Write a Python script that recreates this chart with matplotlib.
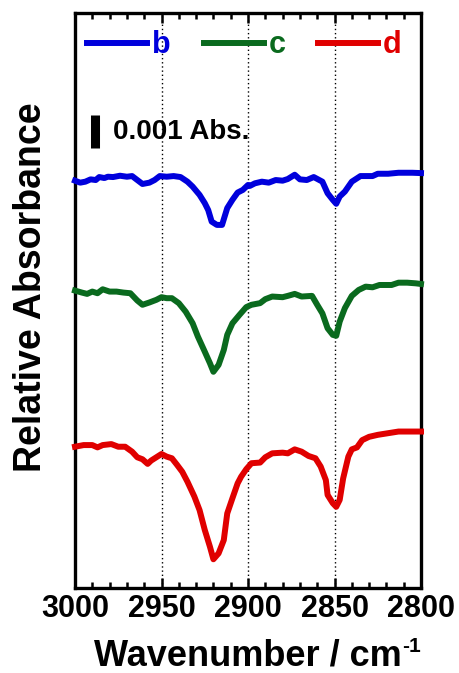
import numpy as np
import matplotlib
matplotlib.use("Agg")
import matplotlib.pyplot as plt
from matplotlib.ticker import MultipleLocator

plt.rcParams['font.family'] = ['Liberation Sans', 'DejaVu Sans']
plt.rcParams['font.weight'] = 'bold'

# ---------------- data (absorbance in mAbs, offset already included) ----------------
wn_b = [3000, 2997, 2994, 2991, 2988, 2986, 2983, 2981, 2978, 2974, 2970, 2967, 2964, 2961,
        2957, 2954, 2951, 2947, 2943, 2939, 2935, 2932, 2928, 2925, 2923, 2921, 2918, 2915,
        2912, 2909, 2906, 2903, 2900, 2899, 2896, 2892, 2888, 2884, 2880, 2877, 2873, 2870,
        2866, 2862, 2857, 2854, 2851, 2849, 2847, 2844, 2840, 2835, 2828, 2825, 2819, 2813,
        2805, 2800]
abs_b = [12.34, 12.28, 12.31, 12.38, 12.36, 12.45, 12.42, 12.46, 12.45, 12.49, 12.46, 12.48,
         12.36, 12.24, 12.28, 12.36, 12.48, 12.46, 12.48, 12.45, 12.31, 12.16, 11.91, 11.66,
         11.45, 11.10, 11.00, 11.00, 11.51, 11.76, 11.98, 12.06, 12.21, 12.18, 12.26, 12.31,
         12.28, 12.36, 12.34, 12.39, 12.52, 12.38, 12.36, 12.45, 12.31, 11.96, 11.76, 11.64,
         11.86, 12.01, 12.31, 12.48, 12.48, 12.55, 12.55, 12.58, 12.58, 12.57]

wn_c = [3000, 2996, 2993, 2990, 2987, 2984, 2980, 2976, 2972, 2968, 2964, 2961, 2957, 2953,
        2950, 2947, 2944, 2940, 2936, 2932, 2929, 2925, 2922, 2920, 2917, 2914, 2912, 2909,
        2905, 2901, 2898, 2893, 2890, 2886, 2880, 2877, 2873, 2869, 2863, 2860, 2857, 2854,
        2851, 2849, 2847, 2844, 2840, 2836, 2832, 2828, 2824, 2817, 2813, 2808, 2803, 2800]
abs_c = [9.01, 8.95, 8.91, 8.98, 8.93, 9.05, 8.98, 8.98, 8.95, 8.93, 8.71, 8.58, 8.65, 8.73,
         8.81, 8.78, 8.78, 8.63, 8.37, 8.02, 7.62, 7.16, 6.81, 6.55, 6.76, 7.21, 7.67, 8.02,
         8.27, 8.51, 8.58, 8.63, 8.75, 8.83, 8.81, 8.85, 8.91, 8.83, 8.85, 8.58, 8.32, 7.87,
         7.67, 7.64, 8.07, 8.48, 8.85, 9.03, 9.13, 9.11, 9.18, 9.18, 9.25, 9.25, 9.23, 9.21]

wn_d = [3000, 2995, 2990, 2987, 2984, 2979, 2975, 2971, 2967, 2964, 2961, 2958, 2956, 2953,
        2950, 2947, 2944, 2941, 2938, 2935, 2931, 2928, 2925, 2922, 2920, 2917, 2914, 2912,
        2909, 2906, 2904, 2901, 2898, 2893, 2890, 2886, 2880, 2877, 2873, 2869, 2865, 2861,
        2858, 2855, 2854, 2851, 2849, 2847, 2845, 2842, 2840, 2837, 2834, 2830, 2825, 2819,
        2813, 2805, 2800]
abs_d = [4.28, 4.33, 4.33, 4.26, 4.33, 4.36, 4.28, 4.28, 4.13, 3.96, 3.90, 3.76, 3.86, 3.96,
         4.06, 3.98, 3.93, 3.73, 3.52, 3.22, 2.77, 2.36, 1.76, 1.25, 0.87, 1.05, 1.45, 2.26,
         2.72, 3.17, 3.37, 3.60, 3.78, 3.80, 3.96, 4.08, 4.10, 4.08, 4.20, 4.13, 4.00, 3.93,
         3.68, 3.27, 2.82, 2.57, 2.46, 2.67, 3.32, 3.98, 4.20, 4.26, 4.48, 4.58, 4.64, 4.69,
         4.74, 4.74, 4.74]

labels = ['b', 'c', 'd']
colors = ['#0000dc', '#0a6a1e', '#e00000']
ref_lines = [2950, 2900, 2850]
xticks = [3000, 2950, 2900, 2850, 2800]
scale_bar_abs = 0.001
scale_bar_text = '0.001 Abs.'

W, H = 459, 673

# ---------------- figure ----------------
fig = plt.figure(figsize=(W / 100, H / 100), dpi=100)
ax = fig.add_axes([75 / W, 85 / H, 346 / W, 575 / H])

for xv in ref_lines:
    ax.axvline(xv, color='black', linestyle=(0, (1, 2)), linewidth=1.0, zorder=1)

series = [(wn_b, abs_b), (wn_c, abs_c), (wn_d, abs_d)]
handles = []
for (wn, ab), lab, col in zip(series, labels, colors):
    h, = ax.plot(wn, np.array(ab) * 1e-3, color=col, linewidth=4.3, label=lab,
                 solid_joinstyle='round', zorder=3, clip_on=False)
    handles.append(h)

ax.set_xlim(3000, 2800)
ax.set_ylim(0, 17.42e-3)

# scale bar
ax.plot([2988.7, 2988.7], [13.33e-3, 13.33e-3 + scale_bar_abs], color='black',
        linewidth=6.5, solid_capstyle='butt', zorder=4)
ax.text(2978.0, 13.61e-3, scale_bar_text, fontsize=20, fontweight='bold',
        ha='left', va='baseline', color='black')

# axes styling
for sp in ax.spines.values():
    sp.set_linewidth(2.4)
ax.set_xticks(xticks)
ax.xaxis.set_minor_locator(MultipleLocator(10))
ax.set_yticks([])
ax.tick_params(axis='x', which='both', direction='in', top=True, bottom=True, width=1.8)
ax.tick_params(axis='x', which='major', length=7, labelsize=22, pad=4)
ax.tick_params(axis='x', which='minor', length=4.5)
for t in ax.get_xticklabels():
    t.set_fontweight('bold')

# x label with small superscript
xl = fig.text(247.5 / W, 7 / H, 'Wavenumber / cm', fontsize=26, fontweight='bold',
              ha='center', va='baseline')
fig.canvas.draw()
bb = xl.get_window_extent(renderer=fig.canvas.get_renderer())
fig.text((bb.x1 + 1) / W, (H - 637) / H, '-1', fontsize=15, fontweight='bold',
         ha='left', va='top')

ax.set_ylabel('Relative Absorbance', fontsize=27, fontweight='bold')
ax.yaxis.set_label_coords(-0.074, 0.524)

leg = ax.legend(handles=handles, loc='center left', bbox_to_anchor=(0.035, 0.944),
                ncol=3, frameon=False, handlelength=1.97,
                handletextpad=0.15, columnspacing=1.08, borderpad=0, borderaxespad=0,
                labelcolor='linecolor', prop={'weight': 'bold', 'size': 22})

fig.savefig('out.png', dpi=100)
